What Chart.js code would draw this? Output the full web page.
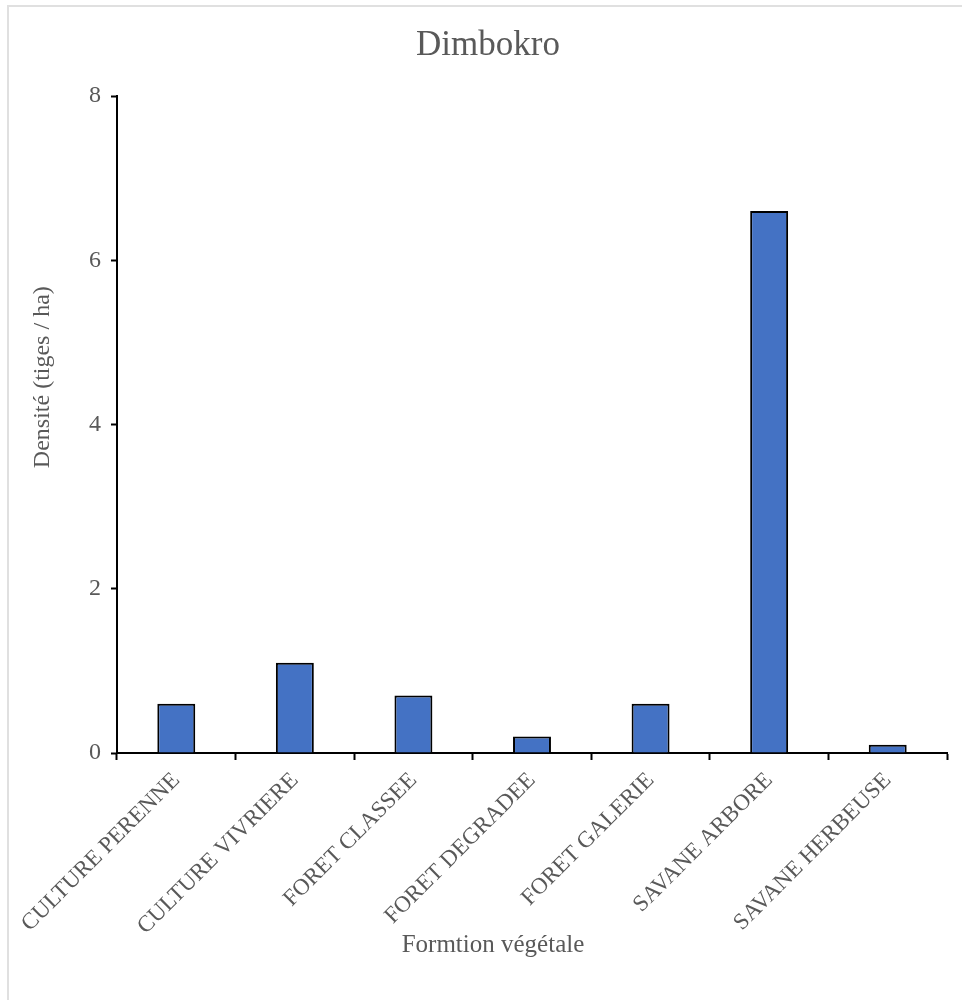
<!DOCTYPE html>
<html>
<head>
<meta charset="utf-8">
<script src="https://cdn.jsdelivr.net/npm/chart.js@4/dist/chart.umd.min.js"></script>
<style>
  html, body { margin: 0; padding: 0; background: #ffffff; overflow: hidden; }
  #frame {
    position: absolute; left: 7px; top: 5px; width: 1000px; height: 1100px;
    border-left: 2px solid #e0e0e0; border-top: 2px solid #e0e0e0;
  }
  #wrap { position: absolute; left: 0; top: 0; width: 962px; height: 1000px; }
</style>
</head>
<body>
<div id="frame"></div>
<div id="wrap"><canvas id="chart" width="962" height="1000"></canvas></div>
<script>
// Tree density per vegetation formation, Dimbokro
const categories = [
  'CULTURE PERENNE', 'CULTURE VIVRIERE', 'FORET CLASSEE', 'FORET DEGRADEE',
  'FORET GALERIE', 'SAVANE ARBORE', 'SAVANE HERBEUSE'
];
const densite = [0.6, 1.1, 0.7, 0.2, 0.6, 6.6, 0.1];
const yTicks = [0, 2, 4, 6, 8];
const xTitle = 'Formtion végétale';
const yTitle = 'Densité (tiges / ha)';

const SERIF = "'Liberation Serif', 'DejaVu Serif', serif";
const TEXT = '#595959';

// Axis titles, centred on the whole plot block (ticks and labels included)
const axisTitles = {
  id: 'axisTitles',
  afterDraw(chart) {
    const { ctx, chartArea } = chart;
    ctx.save();
    ctx.fillStyle = TEXT;
    ctx.textAlign = 'center';
    ctx.textBaseline = 'middle';
    ctx.font = `25px ${SERIF}`;
    ctx.fillText(xTitle, chartArea.left + (chartArea.right - chartArea.left) * 0.453, 945);
    ctx.font = `24px ${SERIF}`;
    ctx.translate(43, chartArea.top + (chartArea.bottom - chartArea.top) * 0.428);
    ctx.rotate(-Math.PI / 2);
    ctx.fillText(yTitle, 0, 0);
    ctx.restore();
  }
};

new Chart(document.getElementById('chart'), {
  type: 'bar',
  data: {
    labels: categories,
    datasets: [{
      data: densite,
      backgroundColor: '#4472C4',
      borderColor: '#000000',
      borderWidth: 2,
      borderSkipped: 'start',
      barPercentage: 0.32,
      categoryPercentage: 1
    }]
  },
  plugins: [axisTitles],
  options: {
    responsive: false,
    animation: false,
    layout: { padding: { left: 29, right: 15, top: 0, bottom: 40 } },
    plugins: {
      legend: { display: false },
      tooltip: { enabled: false },
      title: {
        display: true,
        text: 'Dimbokro',
        color: TEXT,
        font: { family: SERIF, size: 35, weight: 'normal' },
        padding: { top: 25, bottom: 29 }
      }
    },
    scales: {
      x: {
        grid: {
          offset: true, drawOnChartArea: false, drawTicks: true,
          tickLength: 7, tickColor: '#000000', tickWidth: 2
        },
        border: { color: '#000000', width: 2 },
        ticks: {
          color: TEXT,
          font: { family: SERIF, size: 23 },
          minRotation: 45, maxRotation: 45,
          autoSkip: false, padding: 7
        },
        afterFit: s => { s.height = 207; }
      },
      y: {
        min: 0, max: 8,
        afterBuildTicks: s => { s.ticks = yTicks.map(v => ({ value: v })); },
        grid: {
          drawOnChartArea: false, drawTicks: true,
          tickLength: 6, tickColor: '#000000', tickWidth: 2
        },
        border: { color: '#000000', width: 2 },
        ticks: {
          color: TEXT,
          font: { family: SERIF, size: 24 },
          padding: 10
        },
        afterFit: s => { s.width = 88; }
      }
    }
  }
});
</script>
</body>
</html>
